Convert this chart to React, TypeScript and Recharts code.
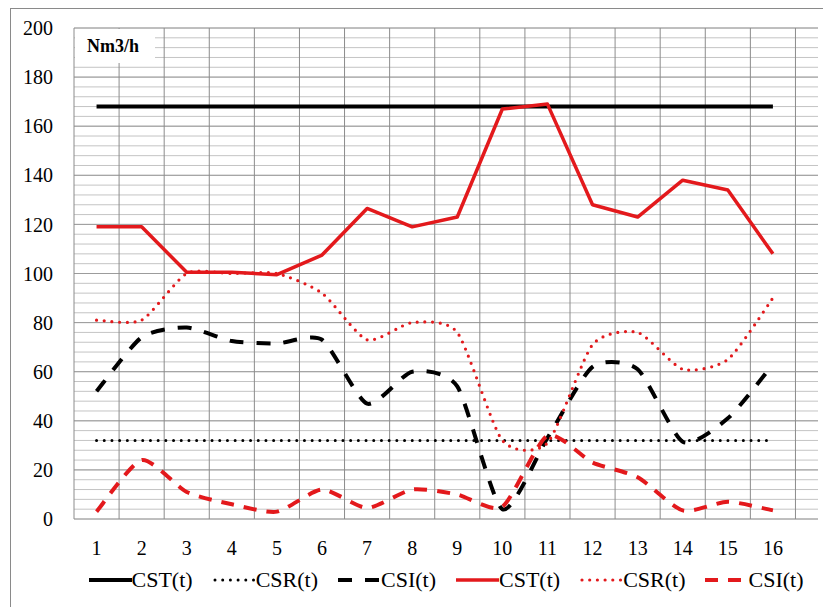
import { CartesianGrid, Line, LineChart, XAxis, YAxis } from "recharts";

// periods 1..16
const periods = [1, 2, 3, 4, 5, 6, 7, 8, 9, 10, 11, 12, 13, 14, 15, 16];

// black series (constant limits + CSI)
const cstBlack = [168, 168, 168, 168, 168, 168, 168, 168, 168, 168, 168, 168, 168, 168, 168, 168];
const csrBlack = [32, 32, 32, 32, 32, 32, 32, 32, 32, 32, 32, 32, 32, 32, 32, 32];
const csiBlack = [52, 74, 78, 72.5, 71.5, 73, 47, 60, 54, 4, 33, 62, 61, 31.5, 41, 63];

// red series
const cstRed = [119, 119, 100.5, 100.5, 99.5, 107.5, 126.5, 119, 123, 167, 169, 128, 123, 138, 134, 108];
const csrRed = [81, 81, 100, 100, 100, 92, 73, 80, 76, 32, 31, 71, 76, 61, 65, 90];
const csiRed = [3, 24, 11, 6, 3, 12, 4.5, 12, 10, 5, 34, 23, 17, 3.5, 7, 3.5];

const yTicks = [0, 20, 40, 60, 80, 100, 120, 140, 160, 180, 200];
const yMinor = [0, 4, 8, 12, 16, 20, 24, 28, 32, 36, 40, 44, 48, 52, 56, 60, 64, 68, 72, 76, 80, 84, 88, 92, 96, 100, 104, 108, 112, 116, 120, 124, 128, 132, 136, 140, 144, 148, 152, 156, 160, 164, 168, 172, 176, 180, 184, 188, 192, 196, 200];
const xBounds = [0.5, 1.5, 2.5, 3.5, 4.5, 5.5, 6.5, 7.5, 8.5, 9.5, 10.5, 11.5, 12.5, 13.5, 14.5, 15.5, 16.5];

const RED = "#e3191c";
const FONT = "'Liberation Serif', 'Times New Roman', serif";

const data = periods.map((t, i) => ({
  t,
  cstB: cstBlack[i],
  csrB: csrBlack[i],
  csiB: csiBlack[i],
  cstR: cstRed[i],
  csrR: csrRed[i],
  csiR: csiRed[i],
}));

// Excel-like smoothing: Catmull-Rom style, slightly tighter to limit overshoot
const SMOOTH_K = 1 / 9;
function smoothCurve(context: any) {
  let pts: [number, number][] = [];
  return {
    areaStart() {},
    areaEnd() {},
    lineStart() {
      pts = [];
    },
    lineEnd() {
      const n = pts.length;
      if (!n) return;
      context.moveTo(pts[0][0], pts[0][1]);
      for (let i = 0; i < n - 1; i++) {
        const p0 = pts[i - 1] ?? pts[i];
        const p1 = pts[i];
        const p2 = pts[i + 1];
        const p3 = pts[i + 2] ?? p2;
        context.bezierCurveTo(
          p1[0] + (p2[0] - p0[0]) * SMOOTH_K,
          p1[1] + (p2[1] - p0[1]) * SMOOTH_K,
          p2[0] - (p3[0] - p1[0]) * SMOOTH_K,
          p2[1] - (p3[1] - p1[1]) * SMOOTH_K,
          p2[0],
          p2[1]
        );
      }
    },
    point(x: number, y: number) {
      pts.push([+x, +y]);
    },
  };
}

type Series = {
  key: string;
  name: string;
  color: string;
  width: number;
  dash?: string;
  cap?: "round" | "butt";
  smooth?: boolean;
};

const series: Series[] = [
  { key: "cstB", name: "CST(t)", color: "#000", width: 4 },
  { key: "csrB", name: "CSR(t)", color: "#000", width: 3, dash: "0 7.7", cap: "round" },
  { key: "csiB", name: "CSI(t)", color: "#000", width: 4, dash: "14 13", smooth: true },
  { key: "cstR", name: "CST(t)", color: RED, width: 3.5 },
  { key: "csrR", name: "CSR(t)", color: RED, width: 3.2, dash: "0 7.7", cap: "round", smooth: true },
  { key: "csiR", name: "CSI(t)", color: RED, width: 4, dash: "13 10", smooth: true },
];

function ChartLegend() {
  return (
    <div
      style={{
        position: "absolute",
        left: 0,
        top: 566,
        width: 892,
        display: "flex",
        justifyContent: "center",
        gap: 20,
        fontFamily: FONT,
        fontSize: 22,
        lineHeight: "28px",
      }}
    >
      {series.map((s) => (
        <div key={s.key} style={{ display: "flex", alignItems: "center" }}>
          <svg width={43} height={12}>
            <line
              x1={s.cap === "round" ? 2 : 0}
              y1={6}
              x2={43}
              y2={6}
              stroke={s.color}
              strokeWidth={s.width}
              strokeDasharray={s.dash}
              strokeLinecap={s.cap ?? "butt"}
            />
          </svg>
          <span>{s.name}</span>
        </div>
      ))}
    </div>
  );
}

export default function App() {
  return (
    <div
      style={{
        position: "absolute",
        left: 0,
        top: 0,
        width: 823,
        height: 607,
        overflow: "hidden",
        background: "#fff",
      }}
    >
      <div
        style={{
          position: "absolute",
          left: 10,
          top: 8,
          width: 840,
          height: 640,
          border: "1px solid #8a8a8a",
        }}
      />
      <div style={{ position: "absolute", left: 0, top: 0 }}>
        <LineChart
          width={823}
          height={560}
          data={data}
          margin={{ top: 28, right: 5, left: 0, bottom: 0 }}
        >
          <CartesianGrid
            vertical={false}
            horizontalValues={yMinor}
            stroke="#c4c4c4"
            strokeWidth={1}
          />
          <CartesianGrid
            vertical={false}
            horizontalValues={yTicks}
            stroke="#9c9c9c"
            strokeWidth={1}
          />
          <CartesianGrid
            horizontal={false}
            verticalValues={xBounds}
            stroke="#8c8c8c"
            strokeWidth={1}
          />
          <XAxis
            dataKey="t"
            type="number"
            domain={[0.5, 16.5]}
            ticks={periods}
            allowDecimals={false}
            axisLine={false}
            tickLine={false}
            tickSize={0}
            tickMargin={22}
            height={41}
            interval={0}
            tick={{ fill: "#000", fontSize: 20, fontFamily: FONT }}
          />
          <YAxis
            type="number"
            domain={[0, 200]}
            ticks={yTicks}
            axisLine={false}
            tickLine={false}
            tickSize={0}
            tickMargin={21}
            width={74}
            interval={0}
            tick={{ fill: "#000", fontSize: 20, fontFamily: FONT }}
          />
          {series.map((s) => (
            <Line
              key={s.key}
              dataKey={s.key}
              name={s.name}
              type={s.smooth ? (smoothCurve as any) : "linear"}
              stroke={s.color}
              strokeWidth={s.width}
              strokeDasharray={s.dash}
              strokeLinecap={s.cap ?? "butt"}
              strokeLinejoin="round"
              dot={false}
              activeDot={false}
              isAnimationActive={false}
            />
          ))}
        </LineChart>
      </div>
      <div
        style={{
          position: "absolute",
          left: 75,
          top: 29,
          width: 80,
          height: 34,
          background: "#fff",
          fontFamily: FONT,
          fontWeight: "bold",
          fontSize: 18,
          lineHeight: "34px",
          paddingLeft: 12,
          boxSizing: "border-box",
        }}
      >
        Nm3/h
      </div>
      <ChartLegend />
    </div>
  );
}
